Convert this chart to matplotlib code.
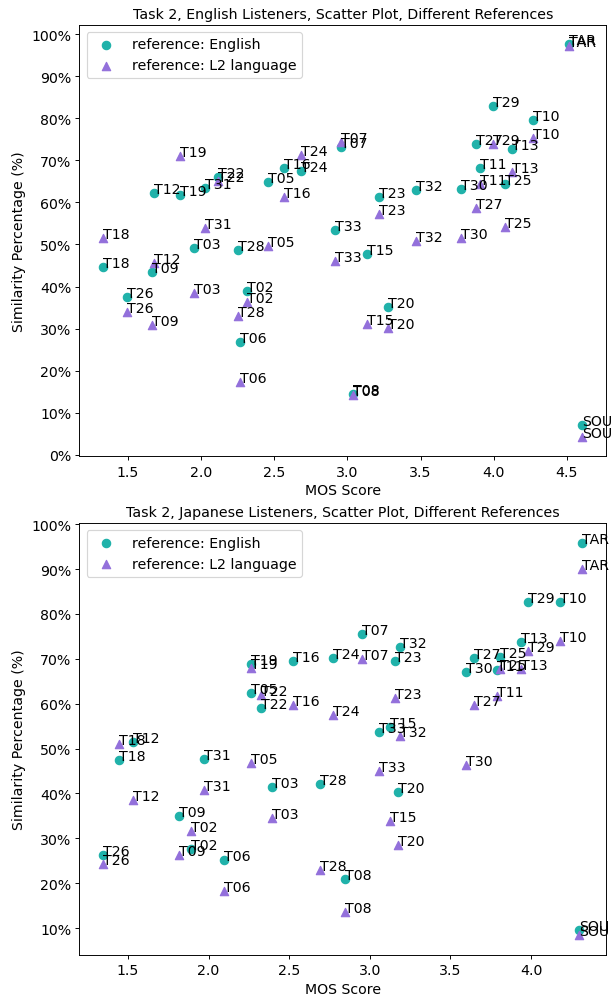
import matplotlib
matplotlib.use("Agg")
import matplotlib.pyplot as plt
from matplotlib.ticker import PercentFormatter, MultipleLocator

names = ["TAR", "SOU", "T02", "T03", "T05", "T06", "T07", "T08", "T09", "T10",
         "T11", "T12", "T13", "T15", "T16", "T18", "T19", "T20", "T22", "T23",
         "T24", "T25", "T26", "T27", "T28", "T29", "T30", "T31", "T32", "T33"]

# English listeners
en_mos = [4.513, 4.605, 2.316, 1.954, 2.457, 2.269, 2.959, 3.036, 1.664, 4.268,
          3.903, 1.675, 4.123, 3.132, 2.569, 1.332, 1.856, 3.279, 2.113, 3.216,
          2.685, 4.076, 1.493, 3.882, 2.253, 3.994, 3.779, 2.024, 3.466, 2.912]
en_sim_english = [97.6, 7.1, 39.0, 49.2, 64.9, 26.9, 73.2, 14.4, 43.5, 79.6,
                  68.1, 62.3, 72.8, 47.7, 68.1, 44.7, 61.8, 35.2, 66.0, 61.3,
                  67.5, 64.3, 37.4, 73.9, 48.8, 82.9, 63.3, 63.5, 62.9, 53.4]
en_sim_l2 = [97.1, 4.3, 36.4, 38.4, 49.6, 17.4, 74.3, 14.3, 30.9, 75.2,
             64.3, 45.7, 67.3, 31.2, 61.4, 51.6, 71.0, 30.1, 65.1, 57.3,
             71.3, 54.2, 34.0, 58.6, 32.9, 73.8, 51.5, 54.0, 50.8, 46.1]

# Japanese listeners
jp_mos = [4.317, 4.296, 1.894, 2.396, 2.263, 2.098, 2.954, 2.848, 1.814, 4.177,
          3.790, 1.531, 3.938, 3.125, 2.521, 1.444, 2.263, 3.175, 2.323, 3.156,
          2.771, 3.806, 1.348, 3.644, 2.692, 3.983, 3.598, 1.969, 3.188, 3.056]
jp_sim_english = [95.8, 9.7, 27.7, 41.5, 62.3, 25.1, 75.6, 20.9, 35.0, 82.6,
                  67.4, 51.5, 73.7, 54.7, 69.4, 47.4, 68.9, 40.4, 59.0, 69.6,
                  70.1, 70.5, 26.2, 70.2, 42.2, 82.6, 67.1, 47.7, 72.7, 53.8]
jp_sim_l2 = [90.0, 8.4, 31.6, 34.5, 46.8, 18.3, 70.0, 13.7, 26.4, 74.0,
             61.8, 38.6, 67.8, 33.8, 59.7, 51.1, 68.0, 28.5, 61.9, 61.3,
             57.5, 67.8, 24.2, 59.8, 22.9, 71.8, 46.3, 40.7, 52.9, 45.1]

titles = ["Task 2, English Listeners, Scatter Plot, Different References",
          "Task 2, Japanese Listeners, Scatter Plot, Different References"]

plt.rcParams["font.size"] = 12

fig = plt.figure(figsize=(616 / 85, 998 / 85), dpi=85)
ax1 = fig.add_axes([0.129, 0.5418, 0.855, 0.4325])
ax2 = fig.add_axes([0.129, 0.0421, 0.855, 0.4325])

panels = [(ax1, en_mos, en_sim_english, en_sim_l2, titles[0]),
          (ax2, jp_mos, jp_sim_english, jp_sim_l2, titles[1])]

for ax, mos, s_en, s_l2, title in panels:
    ax.scatter(mos, s_en, s=50, color="lightseagreen", marker="o",
               label="reference: English", zorder=2)
    ax.scatter(mos, s_l2, s=50, color="mediumpurple", marker="^",
               label="reference: L2 language", zorder=2)
    for n, x, y in zip(names, mos, s_en):
        ax.annotate(n, (x, y), fontsize=12)
    for n, x, y in zip(names, mos, s_l2):
        ax.annotate(n, (x, y), fontsize=12)
    ax.yaxis.set_major_locator(MultipleLocator(10))
    ax.yaxis.set_major_formatter(PercentFormatter(xmax=100, decimals=0))
    ax.set_title(title, fontsize=12)
    ax.set_xlabel("MOS Score", fontsize=12)
    ax.set_ylabel("Similarity Percentage (%)", fontsize=12)
    ax.tick_params(labelsize=12)
    ax.legend(loc="upper left", fontsize=12)

fig.savefig("out.png", dpi=85)
